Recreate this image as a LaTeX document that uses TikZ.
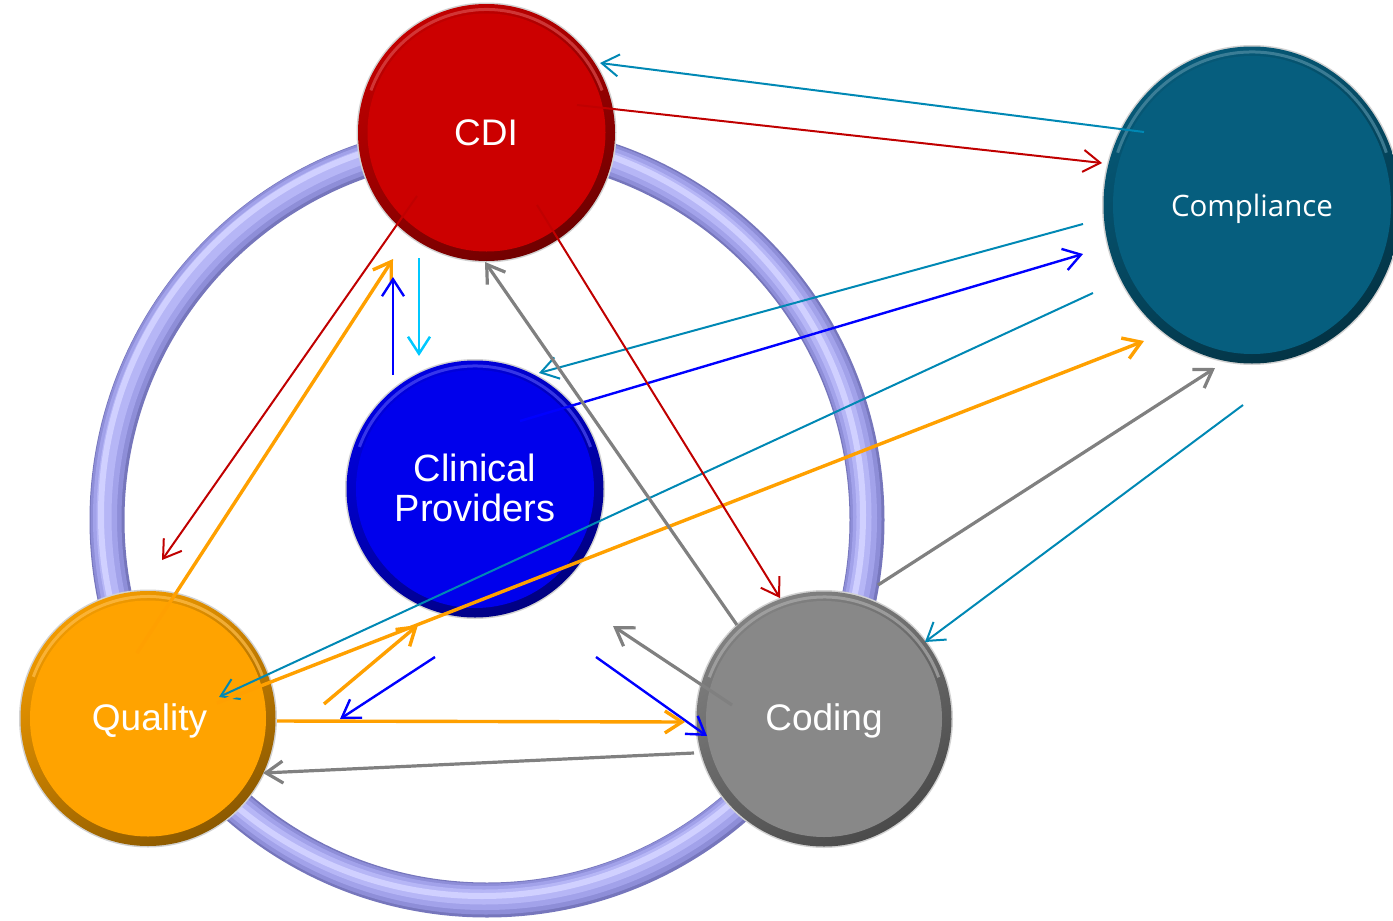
\documentclass[tikz,border=0pt]{standalone}
\usepackage{fontspec}
\setmainfont{Liberation Sans}
\newfontfamily\compfont{Open Sans}
\usetikzlibrary{arrows.meta}

% disc colours
\definecolor{cdiRed}{RGB}{204,0,0}
\definecolor{compTeal}{RGB}{6,94,126}
\definecolor{provBlue}{RGB}{0,0,236}
\definecolor{qualOrange}{RGB}{255,163,0}
\definecolor{codeGray}{RGB}{136,136,136}
% connector colours
\definecolor{aTeal}{RGB}{0,136,180}
\definecolor{aRed}{RGB}{192,0,0}
\definecolor{aBlue}{RGB}{0,0,255}
\definecolor{aOrange}{RGB}{255,160,0}
\definecolor{aGray}{RGB}{128,128,128}
\definecolor{aCyan}{RGB}{0,200,255}
% ring colours, from the shadowed edge to the highlight
\definecolor{ringA}{RGB}{118,118,188}
\definecolor{ringB}{RGB}{142,142,216}
\definecolor{ringC}{RGB}{162,162,234}
\definecolor{ringD}{RGB}{182,182,246}
\definecolor{ringE}{RGB}{208,208,255}

% a bevelled disc: x, y, x radius, y radius, colour
\newcommand\bevdisc[5]{%
  \fill[gray!35] (#1,#2) ellipse [x radius=#3, y radius=#4];
  \shade[top color=#5!95!black, bottom color=#5!55!black, shading angle=30]
    (#1,#2) ellipse [x radius=#3-1.5, y radius=#4-1.5];
  \draw[#5!70!white, line width=3pt, opacity=0.7]
    ([shift={(200:#3-7 and #4-7)}]#1,#2) arc [start angle=200, end angle=340, x radius=#3-7, y radius=#4-7];
  \fill[#5] (#1,#2) ellipse [x radius=#3-11, y radius=#4-11];
}

\tikzset{
  hub/.style={circle, inner sep=0pt, outer sep=0pt},
  lbl/.style={text=white, inner sep=0pt, anchor=base},
  con/.style={-{Straight Barb[length=17pt,width=22pt]}},
  tealline/.style={con, draw=aTeal, line width=2pt},
  redline/.style={con, draw=aRed, line width=2pt},
  blueline/.style={con, draw=aBlue, line width=2.4pt},
  orangeline/.style={con, draw=aOrange, line width=3.4pt},
  grayline/.style={con, draw=aGray, line width=3.2pt},
  cyanline/.style={con, draw=aCyan, line width=2.5pt},
}

\begin{document}
\begin{tikzpicture}[x=1pt, y=-1pt]
\useasboundingbox (0,0) rectangle (1393,921);

% the tube ring, lit from the upper left
\draw[ringA, line width=35pt] (487,520) circle [radius=380];
\draw[ringB, line width=31pt] (486,519) circle [radius=380];
\draw[ringC, line width=24pt] (485,518) circle [radius=380];
\draw[ringD, line width=15pt] (484,517) circle [radius=380];
\draw[ringE, line width=6pt] (482,515) circle [radius=381];

% discs
\bevdisc{486.5}{132.5}{130}{130}{cdiRed}
\bevdisc{1252}{205}{150}{160}{compTeal}
\bevdisc{475}{489}{130}{130}{provBlue}
\bevdisc{148}{718.5}{129}{129}{qualOrange}
\bevdisc{824}{719}{129}{129}{codeGray}

\node[hub, minimum size=260pt] (cdi) at (486.5,132.5) {};
\node[hub, minimum size=310pt] (comp) at (1252,205) {};
\node[hub, minimum size=260pt] (prov) at (475,489) {};
\node[hub, minimum size=258pt] (qual) at (148,718.5) {};
\node[hub, minimum size=258pt] (cod) at (824,719) {};

% labels
\node[lbl, font=\fontsize{37}{40}\selectfont] (cdi-t) at (486,145) {CDI};
\node[lbl, font=\compfont\fontsize{29.5}{32}\selectfont] (comp-t) at (1252,216) {Compliance};
\node[text=white, inner sep=0pt, align=center, font=\fontsize{38}{40}\selectfont] (prov-t) at (475,488) {Clinical\\Providers};
\node[lbl, font=\fontsize{37}{40}\selectfont] (qual-t) at (149.5,730) {Quality};
\node[lbl, font=\fontsize{37}{40}\selectfont] (cod-t) at (824,730) {Coding};

% connector end points
\coordinate (cdiA) at (600,63);
\coordinate (cdiB) at (577,105);
\coordinate (cdiC) at (417,196);
\coordinate (cdiD) at (393,259);
\coordinate (cdiE) at (393,277);
\coordinate (cdiF) at (419,258);
\coordinate (cdiG) at (537,205);
\coordinate (cdiH) at (485,262);
\coordinate (compA) at (1144,132);
\coordinate (compB) at (1102,163);
\coordinate (compC) at (1083,224);
\coordinate (compD) at (1083,254);
\coordinate (compE) at (1093,293);
\coordinate (compF) at (1144,341);
\coordinate (compG) at (1215,368);
\coordinate (compH) at (1243,405);
\coordinate (provA) at (539,373);
\coordinate (provB) at (520,421);
\coordinate (provC) at (393,375);
\coordinate (provD) at (419,356);
\coordinate (provE) at (418,625);
\coordinate (provF) at (435,657);
\coordinate (provG) at (613,626);
\coordinate (provH) at (596,657);
\coordinate (qualA) at (219,697);
\coordinate (qualB) at (217,703);
\coordinate (qualC) at (162,560);
\coordinate (qualD) at (137,653);
\coordinate (qualE) at (324,704);
\coordinate (qualF) at (340,719);
\coordinate (qualG) at (277,721);
\coordinate (qualH) at (263,773);
\coordinate (codA) at (925,642);
\coordinate (codB) at (878,585);
\coordinate (codC) at (780,598);
\coordinate (codD) at (737,625);
\coordinate (codE) at (732,705);
\coordinate (codF) at (707,736);
\coordinate (codG) at (685,722);
\coordinate (codH) at (694,753);

% connectors
\draw[tealline] (compA) -- (cdiA);
\draw[redline] (cdiB) -- (compB);
\draw[tealline] (compC) -- (provA);
\draw[blueline] (provB) -- (compD);
\draw[tealline] (compE) -- (qualA);
\draw[orangeline] (qualB) -- (compF);
\draw[grayline] (codB) -- (compG);
\draw[tealline] (compH) -- (codA);
\draw[redline] (cdiC) -- (qualC);
\draw[orangeline] (qualD) -- (cdiD);
\draw[blueline] (provC) -- (cdiE);
\draw[cyanline] (cdiF) -- (provD);
\draw[redline] (cdiG) -- (codC);
\draw[grayline] (codD) -- (cdiH);
\draw[orangeline] (qualE) -- (provE);
\draw[blueline] (provF) -- (qualF);
\draw[grayline] (codE) -- (provG);
\draw[blueline] (provH) -- (codF);
\draw[orangeline] (qualG) -- (codG);
\draw[grayline] (codH) -- (qualH);
\end{tikzpicture}
\end{document}
